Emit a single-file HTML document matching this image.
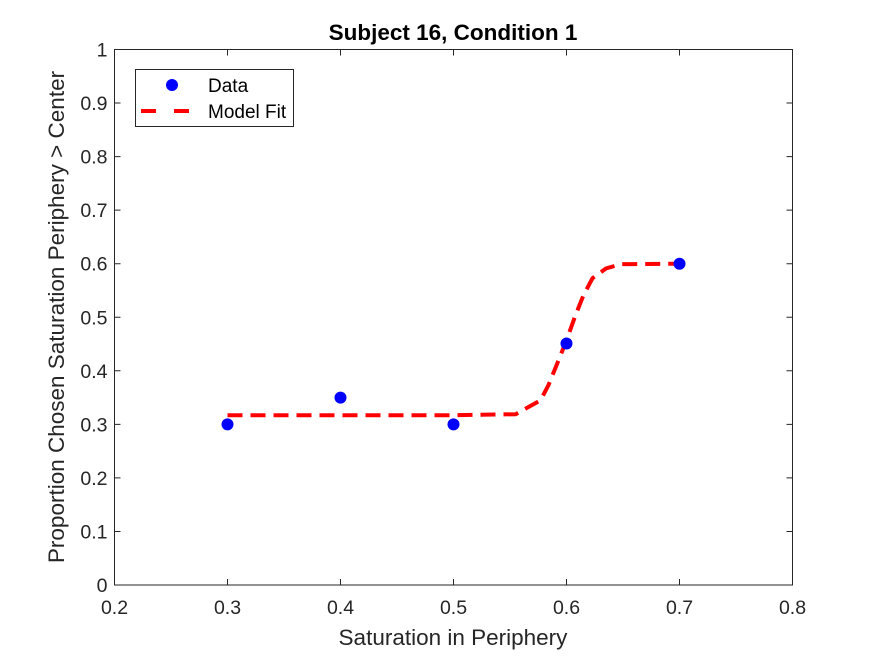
<!DOCTYPE html>
<html><head><meta charset="utf-8"><style>
body{margin:0;background:#fff;}
svg{display:block;font-family:"Liberation Sans",Arial,sans-serif;}
</style></head><body>
<svg id="chart" width="875" height="656" viewBox="0 0 875 656">
<rect x="0" y="0" width="875" height="656" fill="#fff"/>
<g id="plot"></g>
</svg>
<script>
const dataX = [0.3, 0.4, 0.5, 0.6, 0.7];
const dataY = [0.3, 0.35, 0.3, 0.451, 0.6];
const fitX = [0.3, 0.4, 0.5, 0.555, 0.577, 0.584, 0.593, 0.600, 0.608, 0.615, 0.623, 0.635, 0.648, 0.7];
const fitY = [0.317, 0.317, 0.317, 0.319, 0.345, 0.373, 0.42, 0.457, 0.504, 0.541, 0.573, 0.591, 0.599, 0.6];
const xTicks = ["0.2","0.3","0.4","0.5","0.6","0.7","0.8"];
const yTicks = ["0","0.1","0.2","0.3","0.4","0.5","0.6","0.7","0.8","0.9","1"];

const L=114.5, R=792.5, T=49.5, B=585;
const sx = v => L + (v-0.2)/0.6*(R-L);
const sy = v => B - v*(B-T);
const NS="http://www.w3.org/2000/svg";
const g=document.getElementById('plot');
function mk(tag, attrs, text){
  const e=document.createElementNS(NS,tag);
  for(const k in attrs) e.setAttribute(k, attrs[k]);
  if(text!==undefined) e.textContent=text;
  g.appendChild(e); return e;
}
let e;
e=mk('rect',{x:L,y:T,width:R-L,height:B-T,fill:'#fff',stroke:'#262626','stroke-width':1});


xTicks.forEach(t=>{
  const x=sx(parseFloat(t));
  e=mk('path',{d:`M${x} ${B}V${B-6}M${x} ${T}V${T+6}`,stroke:'#262626','stroke-width':1});
  
  
  e=mk('text',{x:x,y:614,'text-anchor':'middle','font-size':19.5,fill:'#262626'},t);
  
  
});
yTicks.forEach(t=>{
  const y=sy(parseFloat(t));
  e=mk('path',{d:`M${L} ${y}H${L+6}M${R} ${y}H${R-6}`,stroke:'#262626','stroke-width':1});
  
  
  e=mk('text',{x:L-7,y:y+7,'text-anchor':'end','font-size':19.5,fill:'#262626'},t);
  
  
});
e=mk('text',{x:453,y:645,'text-anchor':'middle','font-size':22.5,fill:'#262626'},'Saturation in Periphery');


e=mk('text',{x:0,y:0,transform:'translate(64,317) rotate(-90)','text-anchor':'middle','font-size':22.5,fill:'#262626'},'Proportion Chosen Saturation Periphery > Center');


e=mk('text',{x:453,y:40,'text-anchor':'middle','font-size':22.5,'font-weight':'bold',fill:'#000'},'Subject 16, Condition 1');


const pts=fitX.map((x,i)=>`${sx(x).toFixed(1)},${sy(fitY[i]).toFixed(1)}`).join(' ');
e=mk('polyline',{points:pts,fill:'none',stroke:'#ff0000','stroke-width':4,'stroke-dasharray':'15 8'});


dataX.forEach((x,i)=>{
  e=mk('circle',{cx:sx(x),cy:sy(dataY[i]),r:6,fill:'#0000ff'});
  
  
});
e=mk('rect',{x:135.5,y:69.5,width:158,height:57,fill:'#fff',stroke:'#262626','stroke-width':1});


e=mk('circle',{cx:172,cy:85,r:6,fill:'#0000ff'});


e=mk('text',{x:208,y:92,'font-size':19,fill:'#000'},'Data');


e=mk('path',{d:'M141 111H204',stroke:'#ff0000','stroke-width':4,'stroke-dasharray':'15 18'});


e=mk('text',{x:208,y:118,'font-size':19,fill:'#000'},'Model Fit');


</script>
</body></html>
